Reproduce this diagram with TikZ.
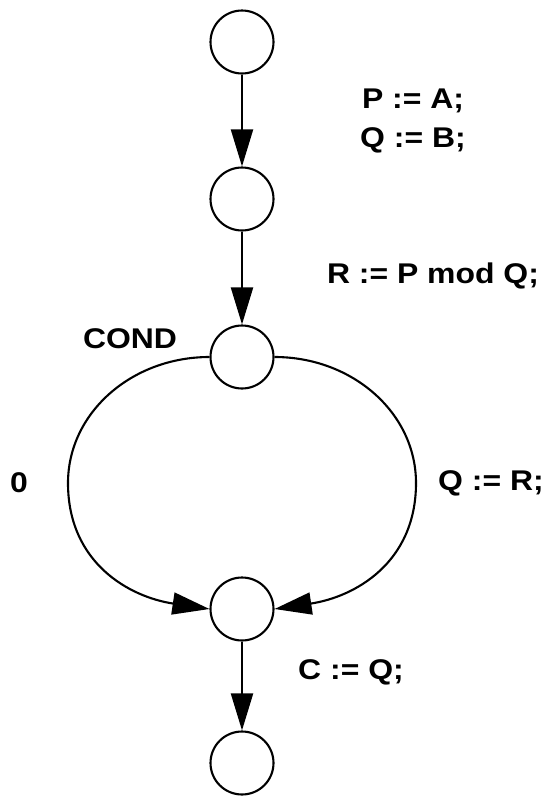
\documentclass[tikz,border=0pt]{standalone}
\usepackage{fontspec}
\setmainfont{Liberation Sans}[FakeStretch=1.12]
\usetikzlibrary{arrows.meta}
\begin{document}
\begin{tikzpicture}[x=1pt,y=-1pt,
  st/.style={circle,draw,line width=2.1pt,minimum size=63pt,inner sep=0pt},
  lbl/.style={font=\fontsize{28.5}{39}\selectfont\bfseries,inner sep=0pt,align=center},
  ln/.style={line width=2.1pt},
  arr/.style={line width=2.1pt,-{Triangle[length=37pt,width=22pt]}}]
\useasboundingbox (0,0) rectangle (549,798);
\node[st] (c1) at (242,42) {};
\node[st] (c2) at (242,199) {};
\node[st] (c3) at (242,357) {};
\node[st] (c4) at (242,609) {};
\node[st] (c5) at (242,763) {};
\coordinate (lft) at (68,483);
\coordinate (rgt) at (416,483);
\draw[arr] (c1) -- (c2);
\draw[arr] (c2) -- (c3);
\draw[arr] (c4) -- (c5);
\draw[ln] (c3.west) .. controls +(-78,0) and +(0,-70) .. (lft);
\draw[arr] (lft) .. controls +(0,80) and +(-80,-12) .. (c4.west);
\draw[ln] (c3.east) .. controls +(78,0) and +(0,-70) .. (rgt);
\draw[arr] (rgt) .. controls +(0,80) and +(80,-12) .. (c4.east);
\node[lbl] (l1) at (413,121) {P := A;\\Q := B;};
\node[lbl] (l2) at (433,276) {R := P mod Q;};
\node[lbl] (l3) at (130,339) {COND};
\node[lbl] (l4) at (19,483) {0};
\node[lbl] (l5) at (491,483) {Q := R;};
\node[lbl] (l6) at (351,672) {C := Q;};
\end{tikzpicture}
\end{document}
